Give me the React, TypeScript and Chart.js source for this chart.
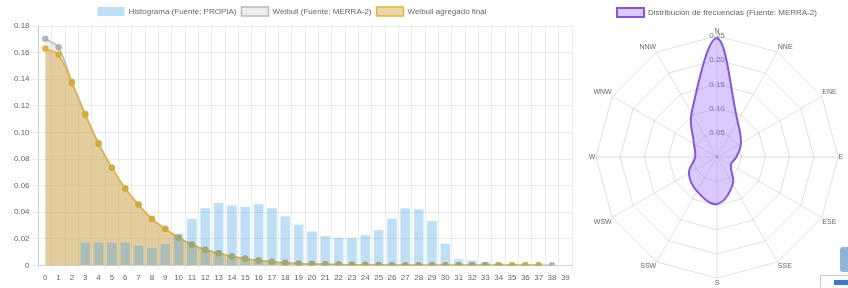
import React, { useEffect, useRef } from "react";
import { Chart, registerables } from "chart.js";

Chart.register(...registerables);

const speedLabels: string[] = Array.from({ length: 40 }, (_, i) => String(i));

const histogramValues: (number | null)[] = [
  0, 0, 0, 0.017, 0.017, 0.017, 0.017, 0.015, 0.013, 0.016,
  0.024, 0.035, 0.043, 0.047, 0.045, 0.044, 0.046, 0.043, 0.037, 0.0306,
  0.0254, 0.022, 0.0207, 0.0207, 0.0226, 0.0266, 0.0353, 0.0428, 0.0423, 0.0334,
  0.0162, 0.0047, 0.0037, 0.0025, 0.0015, 0.001, 0.0007, 0.0005, 0.0003, 0,
];

const weibullMerra: number[] = [
  0.1705, 0.164, 0.138, 0.114, 0.092, 0.0735, 0.058, 0.0458, 0.035, 0.0276,
  0.0208, 0.0158, 0.0118, 0.0093, 0.0068, 0.0051, 0.0038, 0.0027, 0.0019, 0.0014,
  0.001, 0.0008, 0.0006, 0.0005, 0.0004, 0.0003, 0.0002, 0.00015, 0.0001, 0.0001,
  0.0001, 0.0001, 0.0001, 0.0001, 0.0001, 0.0001, 0.0001, 0.0001, 0.0001,
];

const weibullFinal: number[] = [
  0.163, 0.1586, 0.137, 0.113, 0.0913, 0.0734, 0.0577, 0.0456, 0.0349, 0.0274,
  0.0207, 0.0157, 0.0117, 0.0092, 0.0067, 0.005, 0.0037, 0.0025, 0.0017, 0.0013,
  0.001, 0.0008, 0.0006, 0.0005, 0.0004, 0.0003, 0.0002, 0.00015, 0.0001, 0.0001,
  0.0001, 0.0001, 0.0001, 0.0001, 0.0001, 0.0001, 0.0001, 0.0001,
];

const directions: string[] = ["N", "NNE", "ENE", "E", "ESE", "SSE", "S", "SSW", "WSW", "W", "WNW", "NNW"];
const directionFreq: number[] = [0.245, 0.085, 0.057, 0.04, 0.033, 0.065, 0.097, 0.082, 0.067, 0.045, 0.055, 0.105];

const FONT = "'Liberation Sans', Arial, Helvetica, sans-serif";

export default function App() {
  const leftRef = useRef<HTMLCanvasElement | null>(null);
  const rightRef = useRef<HTMLCanvasElement | null>(null);

  useEffect(() => {
    Chart.defaults.font.family = FONT;
    Chart.defaults.color = "#666";
    const left = new Chart(leftRef.current as HTMLCanvasElement, {
      type: "bar",
      data: {
        labels: speedLabels,
        datasets: [
          {
            type: "bar",
            label: "Histograma (Fuente: PROPIA)",
            data: histogramValues,
            backgroundColor: "rgba(54,162,235,0.33)",
            borderColor: "rgba(54,162,235,0.0)",
            borderWidth: 0,
            order: 0,
          } as any,
          {
            type: "line",
            label: "Weibull (Fuente: MERRA-2)",
            data: weibullMerra,
            borderColor: "rgba(185,185,185,1)",
            backgroundColor: "rgba(200,200,200,0.3)",
            pointBackgroundColor: "rgba(170,170,170,0.8)",
            pointBorderColor: "rgba(170,170,170,0.8)",
            pointRadius: 2.5,
            borderWidth: 1.5,
            fill: "origin",
            tension: 0.3,
            order: 2,
          } as any,
          {
            type: "line",
            label: "Weibull agregado final",
            data: weibullFinal,
            borderColor: "rgba(230,180,50,1)",
            backgroundColor: "rgba(210,165,60,0.45)",
            pointBackgroundColor: "rgba(215,170,40,0.75)",
            pointBorderColor: "rgba(215,170,40,0.75)",
            pointRadius: 2.5,
            borderWidth: 1.5,
            fill: "origin",
            tension: 0.3,
            order: 1,
          } as any,
        ],
      },
      options: {
        responsive: false,
        animation: false,
        layout: { padding: { left: 12, right: 6, top: 2, bottom: 1 } },
        plugins: {
          legend: {
            position: "top",
            labels: {
              font: { size: 8, family: FONT },
              boxWidth: 27,
              boxHeight: 9,
              padding: 5,
              color: "#666",
              sort: (a: any, b: any) => a.datasetIndex - b.datasetIndex,
            },
          },
          tooltip: { enabled: false },
        },
        scales: {
          x: {
            grid: { color: "rgba(0,0,0,0.08)", tickLength: 4, offset: true },
            ticks: { font: { size: 8, family: FONT }, autoSkip: false, maxRotation: 0, padding: 4, color: "#666" },
          },
          y: {
            min: 0,
            max: 0.18,
            grid: { color: "rgba(0,0,0,0.08)", tickLength: 7 },
            border: { color: "rgba(150,170,220,0.5)" },
            ticks: {
              stepSize: 0.02,
              font: { size: 8, family: FONT },
              padding: 2,
              color: "#666",
              callback: (v: any) => (Number(v) === 0 ? "0" : Number(v).toFixed(2)),
            },
          },
        },
      } as any,
    });

    const right = new Chart(rightRef.current as HTMLCanvasElement, {
      type: "radar",
      data: {
        labels: directions,
        datasets: [
          {
            label: "Distribución de frecuencias (Fuente: MERRA-2)",
            data: directionFreq,
            backgroundColor: "rgba(153,102,255,0.35)",
            borderColor: "rgba(130,85,235,1)",
            borderWidth: 2,
            pointRadius: 0,
            tension: 0.4,
            fill: true,
          },
        ],
      },
      options: {
        responsive: false,
        animation: false,
        layout: { padding: { top: 3, bottom: 0, left: 0, right: 0 } },
        plugins: {
          legend: {
            position: "top",
            labels: { font: { size: 8, family: FONT }, boxWidth: 27, boxHeight: 9, padding: 5, color: "#666" },
          },
          tooltip: { enabled: false },
        },
        scales: {
          r: {
            min: 0,
            max: 0.25,
            grid: { color: "rgba(0,0,0,0.12)" },
            angleLines: { color: "rgba(0,0,0,0.12)" },
            pointLabels: { font: { size: 7, family: FONT }, color: "#666", padding: -5.5 },
            ticks: {
              stepSize: 0.05,
              font: { size: 8, family: FONT },
              color: "#777",
              showLabelBackdrop: false,
              callback: (v: any) => Number(v).toFixed(2),
            },
          },
        },
      } as any,
    });

    return () => {
      left.destroy();
      right.destroy();
    };
  }, []);

  return (
    <div style={{ position: "fixed", left: 0, top: 0, width: 848, height: 288, overflow: "hidden", background: "#fff" }}>
      <canvas ref={leftRef} width={578} height={288} style={{ position: "absolute", left: 0, top: 0, width: 578, height: 288 }} />
      <canvas ref={rightRef} width={270} height={288} style={{ position: "absolute", left: 582, top: 0, width: 270, height: 288 }} />
      <div style={{ position: "absolute", left: 840, top: 247, width: 14, height: 25, background: "#8fb4d8", borderRadius: 3 }} />
      <div style={{ position: "absolute", left: 820, top: 275, width: 40, height: 20, background: "#fff", border: "1px solid #ccc", boxSizing: "border-box" }}>
        <div style={{ position: "absolute", left: 13, top: 4, width: 30, height: 5, background: "#3b78d0" }} />
      </div>
    </div>
  );
}
